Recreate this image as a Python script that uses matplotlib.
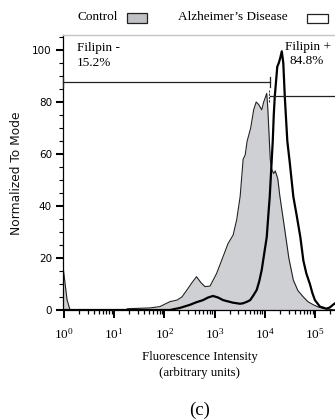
import matplotlib
matplotlib.use("Agg")
import matplotlib.pyplot as plt
from matplotlib.patches import Rectangle
import numpy as np

plt.rcParams['mathtext.fontset'] = 'custom'
plt.rcParams['mathtext.rm'] = 'Liberation Serif'
plt.rcParams['mathtext.it'] = 'Liberation Serif:italic'
plt.rcParams['mathtext.bf'] = 'Liberation Serif:bold'

# ---------------- data (log10 of fluorescence intensity, normalized count) -------------
control_log_x = [-0.02, 0.01, 0.06, 0.12, 1.22, 1.27, 1.71, 1.91, 2.11, 2.25, 2.35, 2.45,
                 2.55, 2.64, 2.73, 2.81, 2.91, 3.04, 3.14, 3.27, 3.37, 3.44, 3.51, 3.57,
                 3.61, 3.65, 3.72, 3.78, 3.83, 3.88, 3.94, 3.98, 4.04, 4.06, 4.08, 4.11,
                 4.14, 4.18, 4.21, 4.26, 4.30, 4.40, 4.48, 4.57, 4.66, 4.77, 4.86, 4.97,
                 5.06, 5.17, 5.30, 5.50]
control_y = [16.7, 12, 4, 0, 0, 0.5, 0.8, 1.3, 3.2, 3.8, 5, 7.7,
             10.5, 12.8, 10.5, 9, 9.2, 14, 19, 25.6, 28.8, 34.6, 43.6, 58,
             59.6, 65, 70, 77, 80, 79, 77, 80, 83.3, 78, 70, 58,
             54, 52.5, 53.5, 50.5, 44, 30.8, 20, 11.5, 7.5, 5, 3.2, 2,
             1.2, 0.6, 0.2, 0]

ad_log_x = [-0.02, 2.11, 2.31, 2.51, 2.64, 2.77, 2.87, 2.97, 3.07, 3.17, 3.37, 3.51,
            3.57, 3.65, 3.71, 3.77, 3.84, 3.89, 3.94, 4.00, 4.04, 4.07, 4.10, 4.16,
            4.18, 4.20, 4.25, 4.28, 4.31, 4.34, 4.37, 4.40, 4.45, 4.50, 4.57, 4.64,
            4.71, 4.77, 4.83, 4.90, 4.95, 5.00, 5.10, 5.23, 5.30, 5.36, 5.50]
ad_y = [0, 0, 0.8, 2, 3, 3.8, 4.8, 5.4, 4.8, 3.8, 2.8, 2.4,
        2.6, 3.2, 3.8, 5.5, 7.7, 11, 15.4, 23, 28, 36, 43.6, 65,
        75, 82, 93.6, 95, 97, 99.5, 95, 82, 65, 56.5, 43.6, 36,
        28, 19, 14, 10, 6.5, 3.8, 1.3, 0.5, 1, 2, 4]

# gates
gate_split_log = 4.10
neg_gate_y = 87.8
pos_gate_y = 82.3
neg_label = ["Filipin -", "15.2%"]
pos_label = ["Filipin +", "84.8%"]

legend_labels = ["Control", "Alzheimer\u2019s Disease"]
x_tick_exps = [0, 1, 2, 3, 4, 5]
y_ticks = [0, 20, 40, 60, 80, 100]

# ---------------- figure -------------
W, H = 335, 420
fig = plt.figure(figsize=(W / 100, H / 100), dpi=100)

def fx(px):
    return px / W

def fy(py):
    return 1 - py / H

ax = fig.add_axes([fx(63), fy(310), fx(340) - fx(63), fy(35) - fy(310)])

cx = 10 ** np.array(control_log_x)
ax_ = 10 ** np.array(ad_log_x)
fill_col = '#cfd0d3'
ax.fill_between(cx, control_y, 0, color=fill_col, lw=0, zorder=1)
ax.plot(cx, control_y, color='#222222', lw=0.8, zorder=2)
ax.plot(ax_, ad_y, color='black', lw=1.6, zorder=3, solid_joinstyle='round')

ax.set_xscale('log')
ax.set_xlim(10 ** -0.02, 10 ** 5.5)
ax.set_ylim(0, 105.77)

# gates
xl = 10 ** -0.02
xs = 10 ** gate_split_log
xr = 10 ** 5.5
ax.plot([xl, xs], [neg_gate_y, neg_gate_y], color='#222222', lw=0.9, zorder=4, clip_on=False)
ax.plot([xl, xl], [neg_gate_y - 2, neg_gate_y + 2], color='#222222', lw=0.9, zorder=4, clip_on=False)
ax.plot([xs, xs], [neg_gate_y - 2, neg_gate_y + 2], color='#222222', lw=0.9, zorder=4)
ax.plot([xs, xr], [pos_gate_y, pos_gate_y], color='#222222', lw=0.9, zorder=4)
ax.plot([xs * 0.985, xs * 0.985], [pos_gate_y - 2.2, pos_gate_y + 2.2], color='#333333', lw=0.8,
        zorder=4, ls=(0, (2, 1)))

# spines
ax.spines['right'].set_visible(False)
ax.spines['top'].set_color('#c4c4c4')
ax.spines['top'].set_linewidth(1.0)
ax.spines['left'].set_linewidth(0.9)
ax.spines['bottom'].set_linewidth(0.9)

# ticks
ax.set_xticks([10 ** e for e in x_tick_exps])
ax.set_xticklabels([r'$\mathregular{10^{%d}}$' % e for e in x_tick_exps])
ax.xaxis.set_minor_locator(matplotlib.ticker.LogLocator(base=10, subs=np.arange(2, 10), numticks=20))
ax.xaxis.set_minor_formatter(matplotlib.ticker.NullFormatter())
ax.tick_params(axis='x', which='major', direction='out', length=6, width=1.4, pad=6.5,
               labelsize=9.5)
ax.tick_params(axis='x', which='minor', direction='out', length=3, width=0.9)
for lab in ax.get_xticklabels():
    lab.set_fontfamily('Liberation Serif')

ax.set_yticks(y_ticks)
ax.set_yticklabels([str(v) for v in y_ticks])
ax.yaxis.set_minor_locator(matplotlib.ticker.MultipleLocator(5))
ax.tick_params(axis='y', which='major', direction='out', length=5, width=1.5, pad=3,
               labelsize=7.5)
ax.tick_params(axis='y', which='minor', direction='out', length=3, width=0.8)
for lab in ax.get_yticklabels():
    lab.set_fontfamily('DejaVu Sans')

# y label
fig.text(fx(17), fy(173), "Normalized To Mode", rotation=90, ha='center', va='center',
         fontsize=8.8, family='DejaVu Sans', color='#111111')

serif = 'Liberation Serif'
# x label
fig.text(fx(200), fy(357), "Fluorescence Intensity", ha='center', va='center',
         fontsize=9.3, family=serif)
fig.text(fx(200), fy(373), "(arbitrary units)", ha='center', va='center',
         fontsize=9.3, family=serif)
fig.text(fx(200), fy(410), "(c)", ha='center', va='center', fontsize=13.5, family=serif)

# gate annotations
fig.text(fx(77), fy(48), neg_label[0], ha='left', va='center', fontsize=9.5, family=serif)
fig.text(fx(77), fy(62.5), neg_label[1], ha='left', va='center', fontsize=9.5, family=serif)
fig.text(fx(285), fy(47), pos_label[0], ha='left', va='center', fontsize=9.5, family=serif)
fig.text(fx(289.5), fy(61.5), pos_label[1], ha='left', va='center', fontsize=9.5, family=serif)

# legend
fig.text(fx(77), fy(17), legend_labels[0], ha='left', va='center', fontsize=9.5, family=serif)
fig.patches.append(Rectangle((fx(127), fy(23)), fx(147) - fx(127), fy(13) - fy(23),
                             transform=fig.transFigure, facecolor='#c0c1c4',
                             edgecolor='#222222', lw=0.9))
fig.text(fx(178), fy(17), legend_labels[1], ha='left', va='center', fontsize=9.5, family=serif)
fig.patches.append(Rectangle((fx(307), fy(23)), fx(328) - fx(307), fy(14) - fy(23),
                             transform=fig.transFigure, facecolor='white',
                             edgecolor='#222222', lw=0.9))

fig.savefig("out.png", dpi=100)
